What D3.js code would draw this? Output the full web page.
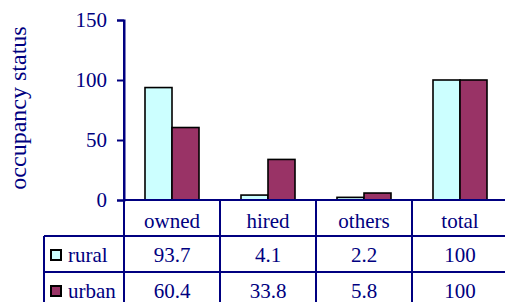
<!DOCTYPE html>
<html>
<head>
<meta charset="utf-8">
<script src="https://cdn.jsdelivr.net/npm/d3@7"></script>
<style>
  body { margin: 0; background: #fff; }
  text { font-family: "Liberation Serif", "Times New Roman", serif; fill: #000080; }
</style>
</head>
<body>
<div id="container"></div>
<script>
const categories = ["owned", "hired", "others", "total"];
const seriesNames = ["rural", "urban"];
const rural = [93.7, 4.1, 2.2, 100];
const urban = [60.4, 33.8, 5.8, 100];
const rural_labels = ["93.7", "4.1", "2.2", "100"];
const urban_labels = ["60.4", "33.8", "5.8", "100"];
const yTicks = [0, 50, 100, 150];
const colors = ["#CCFFFF", "#993366"];

const W = 505, H = 302;
const navy = "#000080";
const plot = {left: 124, top: 20, bottom: 200};
const rowH = 36;

const svg = d3.select("#container").append("svg")
    .attr("width", W)
    .attr("height", H);

const x0 = d3.scaleBand()
    .domain(categories)
    .range([plot.left, plot.left + 96 * 4])
    .padding(0);
const x1 = d3.scaleBand()
    .domain(seriesNames)
    .range([21, 96 - 21])
    .padding(0);
const y = d3.scaleLinear()
    .domain([0, 150])
    .range([plot.bottom, plot.top]);

// bars
const groups = svg.selectAll(".grp")
    .data(categories)
    .enter().append("g")
    .attr("transform", d => `translate(${x0(d)},0)`);

groups.selectAll("rect")
    .data((d, i) => [rural[i], urban[i]].map((v, j) => ({name: seriesNames[j], v: v, c: colors[j]})))
    .enter().append("rect")
    .attr("x", d => x1(d.name))
    .attr("width", x1.bandwidth())
    .attr("y", d => y(d.v))
    .attr("height", d => y(0) - y(d.v))
    .attr("fill", d => d.c)
    .attr("stroke", "#000")
    .attr("stroke-width", 1.6);

// y axis
const yAxis = d3.axisLeft(y).tickValues(yTicks).tickSize(7).tickPadding(10);
const ya = svg.append("g")
    .attr("transform", `translate(${plot.left},0)`)
    .call(yAxis);
ya.select(".domain").attr("stroke", navy).attr("stroke-width", 2);
ya.selectAll(".tick line").attr("stroke", navy).attr("stroke-width", 2);
ya.selectAll(".tick text")
    .style("font-size", "21px")
    .style("font-family", '"Liberation Serif", serif')
    .attr("fill", navy);

svg.append("text")
    .attr("transform", "translate(26,108) rotate(-90)")
    .attr("text-anchor", "middle")
    .style("font-size", "24px")
    .text("occupancy status");

// data table
const tbl = svg.append("g");
const tableLeft = 44;
const lines = [
    [plot.left, plot.bottom, W, plot.bottom],
    [tableLeft, plot.bottom + rowH, W, plot.bottom + rowH],
    [tableLeft, plot.bottom + rowH * 2, W, plot.bottom + rowH * 2],
    [tableLeft, plot.bottom + rowH, tableLeft, H],
    [plot.left, plot.top, plot.left, H]
];
categories.forEach((c, i) => {
    if (i > 0) lines.push([x0(c), plot.bottom, x0(c), H]);
});
tbl.selectAll("line")
    .data(lines)
    .enter().append("line")
    .attr("x1", d => d[0]).attr("y1", d => d[1])
    .attr("x2", d => d[2]).attr("y2", d => d[3])
    .attr("stroke", navy)
    .attr("stroke-width", 2);

tbl.selectAll(".cat")
    .data(categories)
    .enter().append("text")
    .attr("x", d => x0(d) + x0.bandwidth() / 2)
    .attr("y", plot.bottom + 28)
    .attr("text-anchor", "middle")
    .style("font-size", "21px")
    .text(d => d);

[rural_labels, urban_labels].forEach((row, r) => {
    tbl.selectAll(".v" + r)
        .data(row)
        .enter().append("text")
        .attr("x", (d, i) => x0(categories[i]) + x0.bandwidth() / 2)
        .attr("y", plot.bottom + rowH * (r + 1) + 25.5)
        .attr("text-anchor", "middle")
        .style("font-size", "21px")
        .text(d => d);

    tbl.append("rect")
        .attr("x", 51)
        .attr("y", plot.bottom + rowH * (r + 1) + 14)
        .attr("width", 10)
        .attr("height", 10)
        .attr("fill", colors[r])
        .attr("stroke", "#000")
        .attr("stroke-width", 2);
    tbl.append("text")
        .attr("x", 68)
        .attr("y", plot.bottom + rowH * (r + 1) + 25.5)
        .style("font-size", "21px")
        .text(seriesNames[r]);
});
</script>
</body>
</html>
